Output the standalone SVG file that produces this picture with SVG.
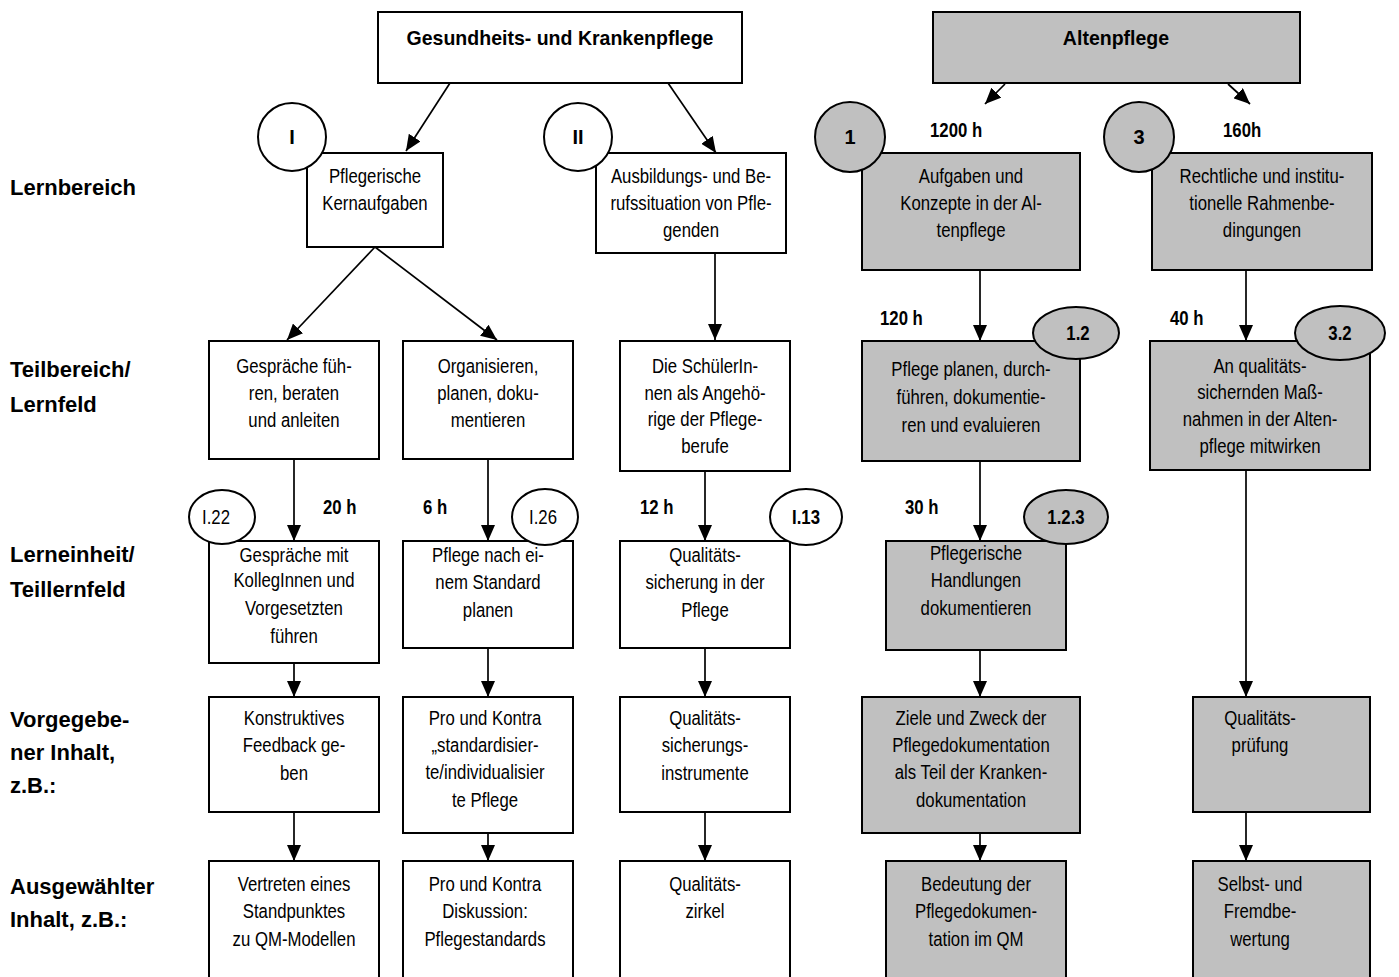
<svg xmlns="http://www.w3.org/2000/svg" width="1399" height="977" viewBox="0 0 1399 977">
<style>
.b{fill:#fff;stroke:#000;stroke-width:2}
.g{fill:#c0c0c0;stroke:#000;stroke-width:2}
text{font-family:"Liberation Sans Narrow","Arial Narrow","Liberation Sans",Arial,sans-serif;fill:#000}
.t{font-size:19.5px;text-anchor:middle}
.tb{font-size:19.5px;font-weight:bold;text-anchor:middle}
.tt{font-size:21px;font-weight:bold;text-anchor:middle}
.h{font-size:19.5px;font-weight:bold}
.m{font-size:17px;text-anchor:middle}
.mb{font-size:17px;font-weight:bold;text-anchor:middle}
.lab{font-family:"Liberation Sans",Arial,sans-serif;font-size:22px;font-weight:bold}
.c line{stroke:#000;stroke-width:1.7;marker-end:url(#ah)}
</style>
<defs>
<marker id="ah" viewBox="0 0 16 14" refX="16" refY="7" markerWidth="16" markerHeight="14" markerUnits="userSpaceOnUse" orient="auto">
<path d="M0,0 L16,7 L0,14 z" fill="#000"/>
</marker>
</defs>
<rect width="1399" height="977" fill="#fff"/>

<g id="labels">
<text class="lab" x="10" y="195">Lernbereich</text>
<text class="lab" x="10" y="377">Teilbereich/</text>
<text class="lab" x="10" y="412">Lernfeld</text>
<text class="lab" x="10" y="562">Lerneinheit/</text>
<text class="lab" x="10" y="597">Teillernfeld</text>
<text class="lab" x="10" y="727">Vorgegebe-</text>
<text class="lab" x="10" y="760">ner Inhalt,</text>
<text class="lab" x="10" y="793">z.B.:</text>
<text class="lab" x="10" y="894">Ausgewählter</text>
<text class="lab" x="10" y="927">Inhalt, z.B.:</text>
</g>

<g class="c" id="connectors">
<line x1="450" y1="83" x2="406" y2="151"/>
<line x1="668" y1="83" x2="716" y2="153"/>
<line x1="1005" y1="84" x2="985" y2="104"/>
<line x1="1228" y1="84" x2="1250" y2="104"/>
<line x1="375" y1="247" x2="287" y2="340"/>
<line x1="375" y1="247" x2="497" y2="340"/>
<line x1="715" y1="253" x2="715" y2="340"/>
<line x1="980" y1="270" x2="980" y2="341"/>
<line x1="1246" y1="270" x2="1246" y2="341"/>
<line x1="294" y1="459" x2="294" y2="541"/>
<line x1="488" y1="459" x2="488" y2="541"/>
<line x1="705" y1="471" x2="705" y2="541"/>
<line x1="980" y1="461" x2="980" y2="541"/>
<line x1="1246" y1="470" x2="1246" y2="697"/>
<line x1="294" y1="663" x2="294" y2="697"/>
<line x1="488" y1="648" x2="488" y2="697"/>
<line x1="705" y1="648" x2="705" y2="697"/>
<line x1="980" y1="650" x2="980" y2="697"/>
<line x1="294" y1="812" x2="294" y2="861"/>
<line x1="488" y1="833" x2="488" y2="861"/>
<line x1="705" y1="812" x2="705" y2="861"/>
<line x1="980" y1="833" x2="980" y2="861"/>
<line x1="1246" y1="812" x2="1246" y2="861"/>
</g>

<g id="n-gkp"><rect class="b" x="378" y="12" width="364" height="71"/><g transform="translate(560,0) scale(0.93,1)"><text class="tt" x="0" y="45">Gesundheits- und Krankenpflege</text></g></g>
<g id="n-ap"><rect class="g" x="933" y="12" width="367" height="71"/><g transform="translate(1116,0) scale(0.93,1)"><text class="tt" x="0" y="45">Altenpflege</text></g></g>

<g id="n-kern"><rect class="b" x="307" y="153" width="136" height="94"/><g transform="translate(375,0) scale(0.86,1)"><text class="t" x="0" y="183">Pflegerische</text><text class="t" x="0" y="210">Kernaufgaben</text></g></g>
<g id="n-ausb"><rect class="b" x="596" y="153" width="190" height="100"/><g transform="translate(691,0) scale(0.86,1)"><text class="t" x="0" y="183">Ausbildungs- und Be-</text><text class="t" x="0" y="210">rufssituation von Pfle-</text><text class="t" x="0" y="237">genden</text></g></g>
<g id="n-aufg"><rect class="g" x="862" y="153" width="218" height="117"/><g transform="translate(971,0) scale(0.86,1)"><text class="t" x="0" y="183">Aufgaben und</text><text class="t" x="0" y="210">Konzepte in der Al-</text><text class="t" x="0" y="237">tenpflege</text></g></g>
<g id="n-recht"><rect class="g" x="1152" y="153" width="220" height="117"/><g transform="translate(1262,0) scale(0.86,1)"><text class="t" x="0" y="183">Rechtliche und institu-</text><text class="t" x="0" y="210">tionelle Rahmenbe-</text><text class="t" x="0" y="237">dingungen</text></g></g>

<g id="n-gespr"><rect class="b" x="209" y="341" width="170" height="118"/><g transform="translate(294,0) scale(0.86,1)"><text class="t" x="0" y="373">Gespräche füh-</text><text class="t" x="0" y="400">ren, beraten</text><text class="t" x="0" y="427">und anleiten</text></g></g>
<g id="n-org"><rect class="b" x="403" y="341" width="170" height="118"/><g transform="translate(488,0) scale(0.86,1)"><text class="t" x="0" y="373">Organisieren,</text><text class="t" x="0" y="400">planen, doku-</text><text class="t" x="0" y="427">mentieren</text></g></g>
<g id="n-schuel"><rect class="b" x="620" y="341" width="170" height="130"/><g transform="translate(705,0) scale(0.86,1)"><text class="t" x="0" y="373">Die SchülerIn-</text><text class="t" x="0" y="400">nen als Angehö-</text><text class="t" x="0" y="426">rige der Pflege-</text><text class="t" x="0" y="453">berufe</text></g></g>
<g id="n-planen"><rect class="g" x="862" y="341" width="218" height="120"/><g transform="translate(971,0) scale(0.86,1)"><text class="t" x="0" y="376">Pflege planen, durch-</text><text class="t" x="0" y="404">führen, dokumentie-</text><text class="t" x="0" y="432">ren und evaluieren</text></g></g>
<g id="n-qsm"><rect class="g" x="1150" y="341" width="220" height="129"/><g transform="translate(1260,0) scale(0.86,1)"><text class="t" x="0" y="373">An qualitäts-</text><text class="t" x="0" y="399">sichernden Maß-</text><text class="t" x="0" y="426">nahmen in der Alten-</text><text class="t" x="0" y="453">pflege mitwirken</text></g></g>

<g id="n-koll"><rect class="b" x="209" y="541" width="170" height="122"/><g transform="translate(294,0) scale(0.86,1)"><text class="t" x="0" y="562">Gespräche mit</text><text class="t" x="0" y="587">KollegInnen und</text><text class="t" x="0" y="615">Vorgesetzten</text><text class="t" x="0" y="643">führen</text></g></g>
<g id="n-std"><rect class="b" x="403" y="541" width="170" height="107"/><g transform="translate(488,0) scale(0.86,1)"><text class="t" x="0" y="562">Pflege nach ei-</text><text class="t" x="0" y="589">nem Standard</text><text class="t" x="0" y="617">planen</text></g></g>
<g id="n-qsp"><rect class="b" x="620" y="541" width="170" height="107"/><g transform="translate(705,0) scale(0.86,1)"><text class="t" x="0" y="562">Qualitäts-</text><text class="t" x="0" y="589">sicherung in der</text><text class="t" x="0" y="617">Pflege</text></g></g>
<g id="n-hand"><rect class="g" x="886" y="541" width="180" height="109"/><g transform="translate(976,0) scale(0.86,1)"><text class="t" x="0" y="560">Pflegerische</text><text class="t" x="0" y="587">Handlungen</text><text class="t" x="0" y="615">dokumentieren</text></g></g>

<g id="n-feed"><rect class="b" x="209" y="697" width="170" height="115"/><g transform="translate(294,0) scale(0.86,1)"><text class="t" x="0" y="725">Konstruktives</text><text class="t" x="0" y="752">Feedback ge-</text><text class="t" x="0" y="780">ben</text></g></g>
<g id="n-pro1"><rect class="b" x="403" y="697" width="170" height="136"/><g transform="translate(485,0) scale(0.86,1)"><text class="t" x="0" y="725">Pro und Kontra</text><text class="t" x="0" y="752">„standardisier-</text><text class="t" x="0" y="779">te/individualisier</text><text class="t" x="0" y="807">te Pflege</text></g></g>
<g id="n-qsi"><rect class="b" x="620" y="697" width="170" height="115"/><g transform="translate(705,0) scale(0.86,1)"><text class="t" x="0" y="725">Qualitäts-</text><text class="t" x="0" y="752">sicherungs-</text><text class="t" x="0" y="780">instrumente</text></g></g>
<g id="n-ziele"><rect class="g" x="862" y="697" width="218" height="136"/><g transform="translate(971,0) scale(0.86,1)"><text class="t" x="0" y="725">Ziele und Zweck der</text><text class="t" x="0" y="752">Pflegedokumentation</text><text class="t" x="0" y="779">als Teil der Kranken-</text><text class="t" x="0" y="807">dokumentation</text></g></g>
<g id="n-qp"><rect class="g" x="1193" y="697" width="177" height="115"/><g transform="translate(1260,0) scale(0.86,1)"><text class="t" x="0" y="725">Qualitäts-</text><text class="t" x="0" y="752">prüfung</text></g></g>

<g id="n-vert"><rect class="b" x="209" y="861" width="170" height="130"/><g transform="translate(294,0) scale(0.86,1)"><text class="t" x="0" y="891">Vertreten eines</text><text class="t" x="0" y="918">Standpunktes</text><text class="t" x="0" y="946">zu QM-Modellen</text></g></g>
<g id="n-pro2"><rect class="b" x="403" y="861" width="170" height="130"/><g transform="translate(485,0) scale(0.86,1)"><text class="t" x="0" y="891">Pro und Kontra</text><text class="t" x="0" y="918">Diskussion:</text><text class="t" x="0" y="946">Pflegestandards</text></g></g>
<g id="n-zirk"><rect class="b" x="620" y="861" width="170" height="130"/><g transform="translate(705,0) scale(0.86,1)"><text class="t" x="0" y="891">Qualitäts-</text><text class="t" x="0" y="918">zirkel</text></g></g>
<g id="n-bed"><rect class="g" x="886" y="861" width="180" height="130"/><g transform="translate(976,0) scale(0.86,1)"><text class="t" x="0" y="891">Bedeutung der</text><text class="t" x="0" y="918">Pflegedokumen-</text><text class="t" x="0" y="946">tation im QM</text></g></g>
<g id="n-selbst"><rect class="g" x="1193" y="861" width="177" height="130"/><g transform="translate(1260,0) scale(0.86,1)"><text class="t" x="0" y="891">Selbst- und</text><text class="t" x="0" y="918">Fremdbe-</text><text class="t" x="0" y="946">wertung</text></g></g>

<g id="hours">
<g transform="translate(930,0) scale(0.86,1)"><text class="h" x="0" y="137">1200 h</text></g>
<g transform="translate(1223,0) scale(0.86,1)"><text class="h" x="0" y="137">160h</text></g>
<g transform="translate(880,0) scale(0.86,1)"><text class="h" x="0" y="325">120 h</text></g>
<g transform="translate(1170,0) scale(0.86,1)"><text class="h" x="0" y="325">40 h</text></g>
<g transform="translate(323,0) scale(0.86,1)"><text class="h" x="0" y="514">20 h</text></g>
<g transform="translate(423,0) scale(0.86,1)"><text class="h" x="0" y="514">6 h</text></g>
<g transform="translate(640,0) scale(0.86,1)"><text class="h" x="0" y="514">12 h</text></g>
<g transform="translate(905,0) scale(0.86,1)"><text class="h" x="0" y="514">30 h</text></g>
</g>

<g id="m-I"><ellipse class="b" cx="292" cy="137" rx="34" ry="34"/><text class="mb" x="292" y="144" style="font-size:20px">I</text></g>
<g id="m-II"><ellipse class="b" cx="578" cy="137" rx="34" ry="34"/><text class="mb" x="578" y="144" style="font-size:20px">II</text></g>
<g id="m-1"><ellipse class="g" cx="850" cy="137" rx="35" ry="35"/><text class="mb" x="850" y="144" style="font-size:20px">1</text></g>
<g id="m-3"><ellipse class="g" cx="1139" cy="137" rx="35" ry="35"/><text class="mb" x="1139" y="144" style="font-size:20px">3</text></g>
<g id="m-12"><ellipse class="g" cx="1076" cy="333" rx="43" ry="26"/><g transform="translate(1078,0) scale(0.86,1)"><text class="tb" x="0" y="340">1.2</text></g></g>
<g id="m-32"><ellipse class="g" cx="1340" cy="333" rx="45" ry="27"/><g transform="translate(1340,0) scale(0.86,1)"><text class="tb" x="0" y="340">3.2</text></g></g>
<g id="m-I22"><ellipse class="b" cx="222" cy="517" rx="33" ry="27"/><g transform="translate(216,0) scale(0.86,1)"><text class="t" x="0" y="524">I.22</text></g></g>
<g id="m-I26"><ellipse class="b" cx="545" cy="517" rx="33" ry="28"/><g transform="translate(543,0) scale(0.86,1)"><text class="t" x="0" y="524">I.26</text></g></g>
<g id="m-I13"><ellipse class="b" cx="806" cy="517" rx="36" ry="28"/><g transform="translate(806,0) scale(0.86,1)"><text class="tb" x="0" y="524">I.13</text></g></g>
<g id="m-123"><ellipse class="g" cx="1066" cy="517" rx="42" ry="27"/><g transform="translate(1066,0) scale(0.86,1)"><text class="tb" x="0" y="524">1.2.3</text></g></g>
</svg>
